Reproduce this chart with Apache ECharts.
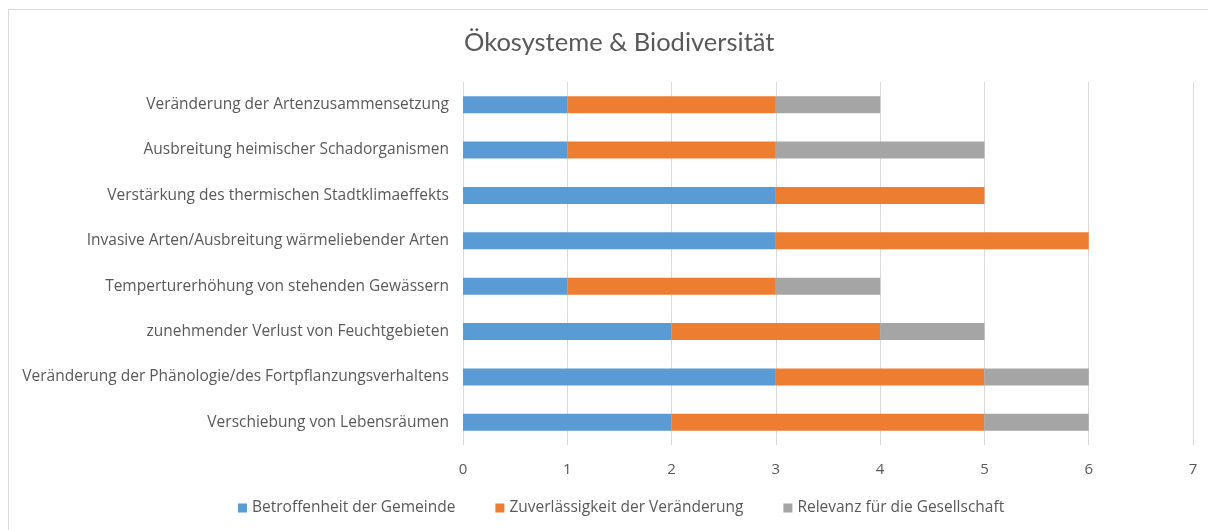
<!DOCTYPE html>
<html>
<head>
<meta charset="utf-8">
<script src="https://cdn.jsdelivr.net/npm/echarts@6/dist/echarts.min.js"></script>
<style>
  html, body { margin: 0; padding: 0; background: #fff; }
  #main { width: 1208px; height: 530px; }
</style>
</head>
<body>
<div id="main"></div>
<script>
// categories from top to bottom
const categories = [
  'Veränderung der Artenzusammensetzung',
  'Ausbreitung heimischer Schadorganismen',
  'Verstärkung des thermischen Stadtklimaeffekts',
  'Invasive Arten/Ausbreitung wärmeliebender Arten',
  'Temperturerhöhung von stehenden Gewässern',
  'zunehmender Verlust von Feuchtgebieten',
  'Veränderung der Phänologie/des Fortpflanzungsverhaltens',
  'Verschiebung von Lebensräumen'
]
const betroffenheit = [1, 1, 3, 3, 1, 2, 3, 2]
const zuverlaessigkeit = [2, 2, 2, 3, 2, 2, 2, 3]
const relevanz = [1, 2, 0, 0, 1, 1, 1, 1]
const seriesNames = ['Betroffenheit der Gemeinde', 'Zuverlässigkeit der Veränderung', 'Relevanz für die Gesellschaft']
const colors = ['#5B9BD5', '#ED7D31', '#A5A5A5']

const font = '"Open Sans", Lato, sans-serif'
const textColor = '#595959'

const myChart = echarts.init(document.getElementById('main'))
myChart.setOption({
  backgroundColor: '#fff',
  animation: false,
  color: colors,
  title: {
    text: 'Ökosysteme & Biodiversität',
    left: 459,
    top: 25,
    textStyle: { fontFamily: 'Lato, sans-serif', fontSize: 25.5, fontWeight: 'normal', color: textColor }
  },
  graphic: [{
    type: 'rect',
    shape: { x: 8.5, y: 9.5, width: 1220, height: 540 },
    style: { fill: 'none', stroke: '#D9D9D9', lineWidth: 1 },
    silent: true
  }],
  legend: {
    bottom: 9,
    left: 233,
    itemWidth: 9,
    itemHeight: 9,
    itemGap: 40,
    icon: 'rect',
    textStyle: { fontFamily: font, fontSize: 15.5, color: textColor }
  },
  grid: { left: 463, right: 15, top: 82, height: 363 },
  xAxis: {
    type: 'value',
    min: 0,
    max: 7,
    interval: 1,
    axisLine: { show: false },
    axisTick: { show: false },
    splitLine: { lineStyle: { color: '#D9D9D9' } },
    axisLabel: { fontFamily: font, fontSize: 15, color: textColor, margin: 17 }
  },
  yAxis: {
    type: 'category',
    inverse: true,
    data: categories,
    axisLine: { show: false },
    axisTick: { show: false },
    axisLabel: { fontFamily: font, fontSize: 15.5, color: textColor, margin: 14 }
  },
  series: [betroffenheit, zuverlaessigkeit, relevanz].map((data, i) => ({
    name: seriesNames[i],
    type: 'bar',
    stack: 'total',
    barWidth: 17,
    data: data
  }))
})
</script>
</body>
</html>
